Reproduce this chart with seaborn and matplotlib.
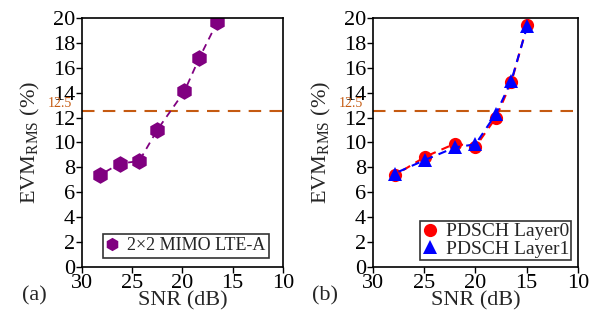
import matplotlib
matplotlib.use("Agg")
import matplotlib.pyplot as plt
import seaborn as sns
import pandas as pd

sns.set_style("ticks")
plt.rcParams['font.family'] = ['Liberation Serif', 'DejaVu Serif']
plt.rcParams['mathtext.fontset'] = 'custom'
plt.rcParams['mathtext.rm'] = 'Liberation Serif'

# Data
snr_a = [28.2, 26.2, 24.3, 22.5, 19.8, 18.3, 16.5]
evm_a = [7.4, 8.3, 8.5, 11.0, 14.1, 16.8, 19.7]

snr_b = [27.9, 24.9, 22.0, 20.0, 18.0, 16.5, 14.95]
evm_layer0 = [7.35, 8.85, 9.9, 9.65, 12.0, 14.85, 19.4]
evm_layer1 = [7.5, 8.6, 9.6, 9.85, 12.3, 14.95, 19.35]

threshold = 12.5
yticks = [0, 2, 4, 6, 8, 10, 12, 14, 16, 18, 20]
xticks = [30, 25, 20, 15, 10]

fig = plt.figure(figsize=(5.94, 3.2), dpi=100)
ax1 = fig.add_axes([0.138, 0.166, 0.338, 0.778])
ax2 = fig.add_axes([0.628, 0.166, 0.345, 0.778])

thr_color = '#C55A11'
fs = 16

df_a = pd.DataFrame({'snr': snr_a, 'evm': evm_a})
sns.lineplot(data=df_a, x='snr', y='evm', ax=ax1, color='#800080', linestyle=(0, (4, 3)),
             marker='h', markersize=12, markeredgewidth=0, linewidth=1.3,
             label='2×2 MIMO LTE-A')

df_b = pd.DataFrame({'snr': snr_b + snr_b,
                     'evm': evm_layer0 + evm_layer1,
                     'series': ['PDSCH Layer0'] * len(snr_b) + ['PDSCH Layer1'] * len(snr_b)})
sns.lineplot(data=df_b[df_b.series == 'PDSCH Layer0'], x='snr', y='evm', ax=ax2, color='red',
             linestyle=(0, (4, 3)), marker='o', markersize=9.5, markeredgewidth=0, linewidth=1.5,
             label='PDSCH Layer0')
sns.lineplot(data=df_b[df_b.series == 'PDSCH Layer1'], x='snr', y='evm', ax=ax2, color='blue',
             linestyle=(0, (4, 3)), marker='^', markersize=10, markeredgewidth=0, linewidth=1.5,
             label='PDSCH Layer1')

for ax, tag in [(ax1, '(a)'), (ax2, '(b)')]:
    ax.axhline(threshold, color=thr_color, linestyle=(0, (6, 4)), linewidth=1.5, zorder=1)
    ax.set_xlim(30, 10)
    ax.set_ylim(0, 20)
    ax.set_xticks(xticks)
    ax.set_yticks(yticks)
    ax.tick_params(labelsize=fs, length=4, width=1, direction='out', pad=1, colors='black')
    for s in ax.spines.values():
        s.set_visible(True)
        s.set_color('black')
        s.set_linewidth(1.2)
    ax.set_xlabel('SNR (dB)', fontsize=fs, labelpad=-1)
    ax.set_ylabel(r'EVM$_{\mathrm{RMS}}$ (%)', fontsize=fs, labelpad=8)
    ax.text(-0.05, threshold + 0.1, '12.5', transform=ax.get_yaxis_transform(), ha='right', va='bottom',
            color=thr_color, fontsize=10)
    ax.text(-0.3, -0.115, tag, transform=ax.transAxes, fontsize=fs, ha='left', va='center')

leg1 = ax1.legend(loc='lower right', fontsize=13, frameon=True, fancybox=False, handlelength=0.6,
                  handletextpad=0.5, borderpad=0.2, borderaxespad=0, markerscale=0.8,
                  bbox_to_anchor=(0.93, 0.036))
leg1.get_frame().set_edgecolor('black')
leg1.get_frame().set_linewidth(1.2)
for h in leg1.get_lines():
    h.set_linestyle('none')

leg2 = ax2.legend(loc='lower right', fontsize=14, frameon=True, fancybox=False, handlelength=0.8,
                  handletextpad=0.4, borderpad=0.1, labelspacing=0.0, borderaxespad=0,
                  bbox_to_anchor=(0.966, 0.028))
leg2.get_frame().set_edgecolor('black')
leg2.get_frame().set_linewidth(1.2)
for h in leg2.get_lines():
    h.set_linestyle('none')

fig.savefig('out.png', dpi=100)
